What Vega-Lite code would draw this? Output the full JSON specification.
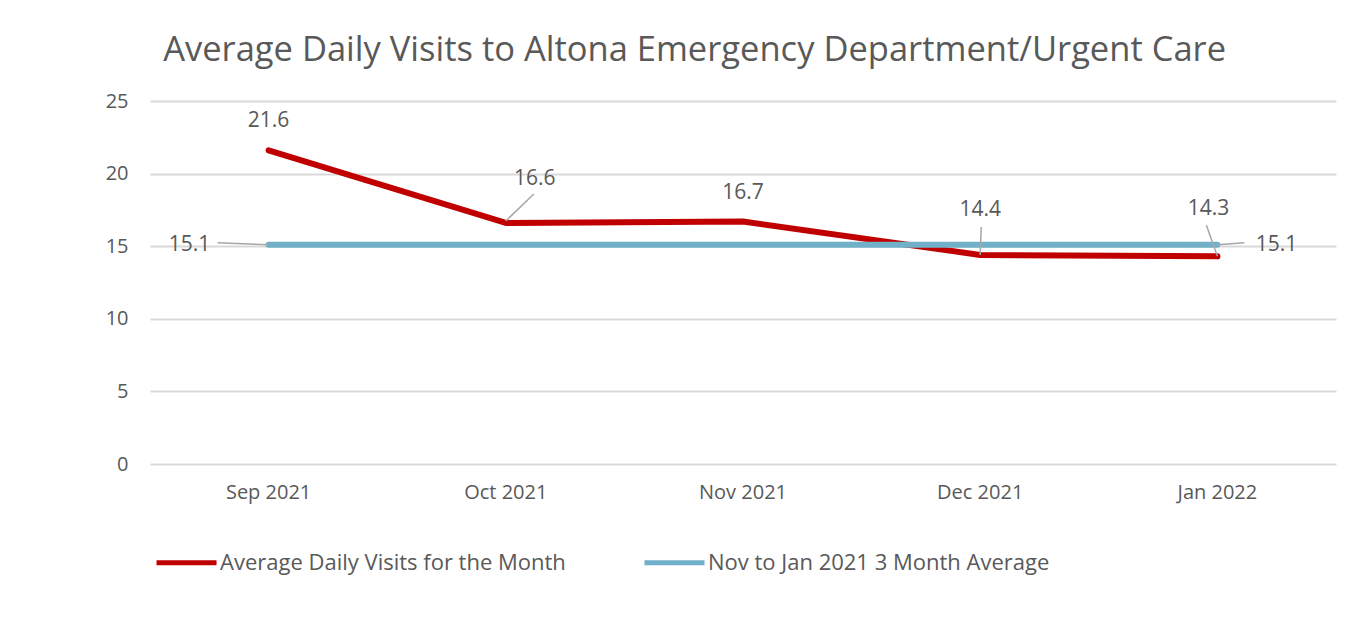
{
  "$schema": "https://vega.github.io/schema/vega-lite/v6.json",
  "width": 1186,
  "height": 363,
  "autosize": {"type": "none"},
  "padding": {"left": 150, "top": 101, "right": 23, "bottom": 154},
  "background": "white",
  "config": {
    "view": {"stroke": null},
    "font": "Open Sans"
  },
  "title": {
    "text": "Average Daily Visits to Altona Emergency Department/Urgent Care",
    "anchor": "start",
    "dx": 58,
    "offset": 23,
    "fontSize": 34.5,
    "fontWeight": "normal",
    "color": "#595959",
    "font": "Open Sans"
  },
  "data": {
    "values": [
      {"month": "Sep 2021", "series": "Average Daily Visits for the Month", "value": 21.6},
      {"month": "Oct 2021", "series": "Average Daily Visits for the Month", "value": 16.6},
      {"month": "Nov 2021", "series": "Average Daily Visits for the Month", "value": 16.7},
      {"month": "Dec 2021", "series": "Average Daily Visits for the Month", "value": 14.4},
      {"month": "Jan 2022", "series": "Average Daily Visits for the Month", "value": 14.3},
      {"month": "Sep 2021", "series": "Nov to Jan 2021 3 Month Average", "value": 15.1},
      {"month": "Oct 2021", "series": "Nov to Jan 2021 3 Month Average", "value": 15.1},
      {"month": "Nov 2021", "series": "Nov to Jan 2021 3 Month Average", "value": 15.1},
      {"month": "Dec 2021", "series": "Nov to Jan 2021 3 Month Average", "value": 15.1},
      {"month": "Jan 2022", "series": "Nov to Jan 2021 3 Month Average", "value": 15.1}
    ]
  },
  "encoding": {
    "x": {
      "field": "month",
      "type": "ordinal",
      "sort": ["Sep 2021", "Oct 2021", "Nov 2021", "Dec 2021", "Jan 2022"],
      "scale": {"type": "band", "paddingInner": 0, "paddingOuter": 0},
      "axis": {
        "title": null,
        "labelAngle": 0,
        "domain": false,
        "ticks": false,
        "grid": false,
        "labelFontSize": 20,
        "labelColor": "#595959",
        "labelPadding": 18,
        "labelFont": "Open Sans"
      }
    },
    "y": {
      "field": "value",
      "type": "quantitative",
      "scale": {"domain": [0, 25]},
      "axis": {
        "title": null,
        "values": [0, 5, 10, 15, 20, 25],
        "domain": false,
        "ticks": false,
        "gridColor": "#d9d9d9",
        "gridWidth": 2,
        "labelFontSize": 20,
        "labelColor": "#595959",
        "labelPadding": 22,
        "labelFont": "Open Sans"
      }
    }
  },
  "layer": [
    {
      "mark": {"type": "line", "strokeWidth": 6, "strokeCap": "round", "strokeJoin": "round"},
      "encoding": {
        "color": {
          "field": "series",
          "type": "nominal",
          "sort": ["Average Daily Visits for the Month", "Nov to Jan 2021 3 Month Average"],
          "scale": {
            "domain": ["Average Daily Visits for the Month", "Nov to Jan 2021 3 Month Average"],
            "range": ["#C00000", "#70B0C8"]
          },
          "legend": {
            "title": null,
            "orient": "none",
            "legendX": 4,
            "legendY": 429,
            "direction": "horizontal",
            "symbolType": "stroke",
            "symbolSize": 3600,
            "symbolStrokeWidth": 5,
            "labelFontSize": 22,
            "labelColor": "#595959",
            "labelFont": "Open Sans",
            "labelOffset": 1,
            "columnPadding": 68,
            "labelLimit": 600
          }
        },
        "order": {"field": "series"}
      }
    },
    {
      "transform": [{"filter": "datum.series === 'Average Daily Visits for the Month' && datum.month === 'Oct 2021'"}],
      "mark": {"type": "rule", "color": "#a6a6a6", "strokeWidth": 1.5, "yOffset": -2, "x2Offset": 28, "y2Offset": -29},
      "encoding": {"x2": {"field": "month"}, "y2": {"field": "value"}}
    },
    {
      "transform": [{"filter": "datum.series === 'Average Daily Visits for the Month' && datum.month === 'Dec 2021'"}],
      "mark": {"type": "rule", "color": "#a6a6a6", "strokeWidth": 1.5, "yOffset": 0, "x2Offset": 1, "y2Offset": -28},
      "encoding": {"x2": {"field": "month"}, "y2": {"field": "value"}}
    },
    {
      "transform": [{"filter": "datum.series === 'Average Daily Visits for the Month' && datum.month === 'Jan 2022'"}],
      "mark": {"type": "rule", "color": "#a6a6a6", "strokeWidth": 1.5, "yOffset": 0, "x2Offset": -11, "y2Offset": -31},
      "encoding": {"x2": {"field": "month"}, "y2": {"field": "value"}}
    },
    {
      "transform": [{"filter": "datum.series === 'Nov to Jan 2021 3 Month Average' && datum.month === 'Sep 2021'"}],
      "mark": {"type": "rule", "color": "#a6a6a6", "strokeWidth": 1.5, "yOffset": 0, "x2Offset": -51, "y2Offset": -2},
      "encoding": {"x2": {"field": "month"}, "y2": {"field": "value"}}
    },
    {
      "transform": [{"filter": "datum.series === 'Nov to Jan 2021 3 Month Average' && datum.month === 'Jan 2022'"}],
      "mark": {"type": "rule", "color": "#a6a6a6", "strokeWidth": 1.5, "yOffset": 0, "x2Offset": 27, "y2Offset": -2},
      "encoding": {"x2": {"field": "month"}, "y2": {"field": "value"}}
    },
    {
      "transform": [{"filter": "datum.series === 'Average Daily Visits for the Month' && (datum.month === 'Sep 2021' || datum.month === 'Nov 2021')"}],
      "mark": {"type": "text", "dy": -29, "fontSize": 21, "color": "#595959", "font": "Open Sans"},
      "encoding": {"text": {"field": "value", "type": "quantitative", "format": ".1f"}}
    },
    {
      "transform": [{"filter": "datum.series === 'Average Daily Visits for the Month' && datum.month === 'Oct 2021'"}],
      "mark": {"type": "text", "dx": 29, "dy": -44, "fontSize": 21, "color": "#595959", "font": "Open Sans"},
      "encoding": {"text": {"field": "value", "type": "quantitative", "format": ".1f"}}
    },
    {
      "transform": [{"filter": "datum.series === 'Average Daily Visits for the Month' && datum.month === 'Dec 2021'"}],
      "mark": {"type": "text", "dy": -45, "fontSize": 21, "color": "#595959", "font": "Open Sans"},
      "encoding": {"text": {"field": "value", "type": "quantitative", "format": ".1f"}}
    },
    {
      "transform": [{"filter": "datum.series === 'Average Daily Visits for the Month' && datum.month === 'Jan 2022'"}],
      "mark": {"type": "text", "dx": -9, "dy": -47, "fontSize": 21, "color": "#595959", "font": "Open Sans"},
      "encoding": {"text": {"field": "value", "type": "quantitative", "format": ".1f"}}
    },
    {
      "transform": [{"filter": "datum.series === 'Nov to Jan 2021 3 Month Average' && datum.month === 'Sep 2021'"}],
      "mark": {"type": "text", "dx": -79, "fontSize": 21, "color": "#595959", "font": "Open Sans"},
      "encoding": {"text": {"field": "value", "type": "quantitative", "format": ".1f"}}
    },
    {
      "transform": [{"filter": "datum.series === 'Nov to Jan 2021 3 Month Average' && datum.month === 'Jan 2022'"}],
      "mark": {"type": "text", "dx": 59, "fontSize": 21, "color": "#595959", "font": "Open Sans"},
      "encoding": {"text": {"field": "value", "type": "quantitative", "format": ".1f"}}
    }
  ]
}
